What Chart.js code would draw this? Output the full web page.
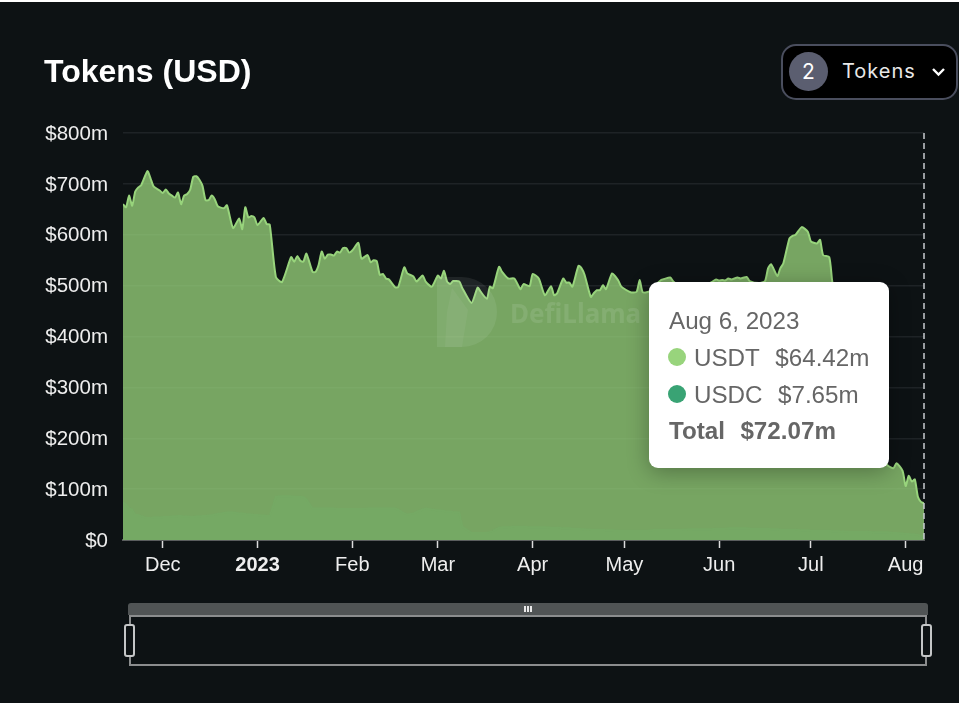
<!DOCTYPE html>
<html>
<head>
<meta charset="utf-8">
<title>Tokens (USD)</title>
<script src="https://cdn.jsdelivr.net/npm/chart.js@4"></script>
<style>
  html, body { margin: 0; padding: 0; background: #fff; }
  #page { position: absolute; left: 0; top: 2px; width: 959px; height: 701px; background: #0d1214; overflow: hidden; }
  #page div { position: absolute; box-sizing: border-box; }
  #tokensChart { position: absolute; left: 0; top: -2px; }
  #title { left: 44px; top: 51px; color: #fff; font: bold 32px "Liberation Sans", sans-serif; white-space: nowrap; }
  #picker { left: 781px; top: 42px; width: 177px; height: 56px; background: #000; border: 2px solid #4a4e5e; border-radius: 15px; }
  #pickerCount { left: 789px; top: 50px; width: 39px; height: 39px; border-radius: 50%; background: #5b5e70; color: #fff; font: 21px/39px Inter, sans-serif; text-align: center; }
  #pickerText { left: 842px; top: 57px; color: #e8e8e8; font: 20px Inter, sans-serif; letter-spacing: 1px; white-space: nowrap; }
  #watermark { left: 510px; top: 293px; color: rgba(255,255,255,0.1); font: bold 26px "Noto Sans", sans-serif; white-space: nowrap; }
  #tip { left: 649px; top: 280px; width: 240px; height: 186px; background: #fff; border-radius: 9px; box-shadow: 0 4px 22px rgba(0,0,0,0.3); color: #666; font: 24.2px "Liberation Sans", sans-serif; }
  #tip div { white-space: nowrap; }
  .dot { width: 18px; height: 18px; border-radius: 50%; left: 19px; }
  #sliderBar { left: 128px; top: 601px; width: 800px; height: 12px; background: #505455; border-radius: 3px 3px 0 0; }
  .grip { top: 604px; width: 2px; height: 6px; background: #e8e8e8; }
  #sliderFrame { left: 129px; top: 613px; width: 798px; height: 51px; border: 2px solid #8b8d8e; }
  .handle { top: 622px; width: 11px; height: 33px; background: #0d1214; border: 2px solid #c4c6c7; border-radius: 3px; }
</style>
</head>
<body>
<div id="page">
  <canvas id="tokensChart" width="959" height="703"></canvas>
  <div id="watermark">DefiLlama</div>
  <div id="title">Tokens (USD)</div>
  <div id="picker"></div>
  <div id="pickerCount">2</div>
  <div id="pickerText">Tokens</div>
  <svg style="position:absolute;left:931px;top:65px" width="16" height="10"><path d="M2 2 L7.5 7.5 L13 2" fill="none" stroke="#fff" stroke-width="2.4"/></svg>
  <div id="tip"></div>
  <div id="sliderBar"></div>
  <div class="grip" style="left:524px"></div>
  <div class="grip" style="left:527px"></div>
  <div class="grip" style="left:530px"></div>
  <div id="sliderFrame"></div>
  <div class="handle" style="left:124px"></div>
  <div class="handle" style="left:921px"></div>
</div>
<script>
// day number counted from Nov 18 2022, values in $m
const tokenDays = [0,1,2,3,4,5,6,8,9,10,12,13,14,15,16,17,18,19,20,21,22,23,24,25,26,27,28,29,30,31,33,34,36,38,39,40,41,42,43,44,46,47,48,50,52,55,56,57,58,59,60,62,63,64,65,66,67,68,69,70,71,72,73,74,75,77,78,80,81,82,83,84,85,86,87,89,90,92,93,95,96,98,99,101,103,104,105,106,107,108,110,111,114,116,117,119,120,121,123,124,126,128,130,131,133,134,136,138,140,141,142,144,145,146,147,149,150,151,153,154,155,156,157,158,160,162,163,166,168,169,170,172,174,176,177,179,180,183,186,189,192,194,195,196,197,198,199,201,202,204,205,208,210,211,212,214,215,216,218,219,220,222,224,225,227,228,229,231,232,234,237,240,243,246,249,250,252,253,255,256,257,258,259,260,261,262];
const usdcValues = [75,70,62,60,49,49,47,43,43,44,44,45,45,45,46,46,47,47,46,46,45,45,46,46,47,47,48,48,50,51,53,54,54,52,52,51,50,50,49,49,48,47,47,85,86,86,85,85,85,84,80,62,62,62,62,62,62,62,62,61,61,61,61,61,61,61,61,62,62,62,62,62,62,62,62,62,60,52,50,52,55,60,62,60,58,58,57,56,56,55,54,26,14,14,14,14,16,18,24,25,25,26,26,26,25,25,25,25,24,24,24,23,23,23,22,22,21,21,20,20,20,20,20,19,19,18,18,18,18,18,18,18,20,20,20,20,20,20,21,21,21,22,22,22,22,23,23,23,23,23,22,22,22,22,21,21,20,20,20,20,20,19,19,18,18,18,18,18,17,17,16,16,16,15,15,15,14,14,13,12,12,11,11,10,8,7.65];
const usdtValues = [585,584,615,597,636,644,651,682,668,651,643,637,644,636,631,627,636,613,631,634,644,669,669,662,649,621,620,629,620,605,599,604,559,580,559,603,584,587,585,570,585,574,573,432,421,470,462,473,464,463,483,465,465,479,505,491,499,499,497,506,504,513,513,504,508,523,492,498,484,488,486,459,461,452,450,435,437,484,474,466,453,460,446,438,462,456,472,452,447,454,454,469,452,482,474,460,482,477,513,502,489,488,467,477,474,498,489,456,475,457,461,491,483,483,476,517,513,500,458,465,471,471,481,474,505,492,480,469,470,493,469,470,480,491,493,496,488,475,481,476,484,490,488,489,488,491,489,493,491,494,487,483,487,512,521,498,514,524,573,578,580,596,587,569,565,572,542,538,491,433,374,304,244,190,150,132,127,137,123,94,114,104,108,75,67,64.42];
const monthDays = [13,44,75,103,134,164,195,225,256];
const monthLabels = ['Dec','2023','Feb','Mar','Apr','May','Jun','Jul','Aug'];
const yTicks = [0,100,200,300,400,500,600,700,800];

const tipDate = 'Aug 6, 2023';
const tipRows = [
    { name: 'USDT', value: '$64.42m', color: '#98d47c' },
    { name: 'USDC', value: '$7.65m', color: '#39a374' }
];
const tipTotal = '$72.07m';

const tickFont = '"Liberation Sans", sans-serif';

function renderTip() {
    const tip = document.getElementById('tip');
    let html = `<div style="left:20px;top:25px">${tipDate}</div>`;
    tipRows.forEach((r, i) => {
        const top = 62 + i * 36.5;
        html += `<div class="dot" style="top:${top + 4}px;background:${r.color}"></div>`;
        html += `<div style="left:45px;top:${top}px;word-spacing:1px">${r.name}&nbsp; ${r.value}</div>`;
    });
    html += `<div style="left:20px;top:135px;font-weight:bold;word-spacing:1px">Total&nbsp; ${tipTotal}</div>`;
    tip.innerHTML = html;
}

// dashed cursor on the last day, and the faint logo behind the tooltip
const overlayPlugin = {
    id: 'overlay',
    afterDatasetsDraw(chart) {
        const { ctx, chartArea, scales } = chart;
        const x = scales.x.getPixelForValue(tokenDays[tokenDays.length - 1]);
        ctx.save();
        ctx.strokeStyle = '#c8cbd0';
        ctx.lineWidth = 1.5;
        ctx.setLineDash([6, 4]);
        ctx.beginPath();
        ctx.moveTo(x, chartArea.top);
        ctx.lineTo(x, chartArea.bottom);
        ctx.stroke();
        ctx.setLineDash([]);

        ctx.fillStyle = 'rgba(255,255,255,0.08)';
        ctx.beginPath();
        ctx.moveTo(437, 277);
        ctx.lineTo(462, 277);
        ctx.arc(462, 312, 35, -Math.PI / 2, Math.PI / 2);
        ctx.lineTo(437, 347);
        ctx.closePath();
        ctx.fill();
        ctx.fillStyle = 'rgba(255,255,255,0.05)';
        ctx.beginPath();
        ctx.moveTo(452, 288);
        ctx.lineTo(468, 310);
        ctx.lineTo(462, 347);
        ctx.lineTo(445, 347);
        ctx.lineTo(447, 312);
        ctx.closePath();
        ctx.fill();
        ctx.restore();
    }
};

function renderChart() {
    const ctx = document.getElementById('tokensChart').getContext('2d');
    new Chart(ctx, {
        type: 'line',
        data: {
            datasets: [
                {
                    label: 'USDC',
                    data: tokenDays.map((d, i) => ({ x: d, y: usdcValues[i] })),
                    borderColor: '#75a964',
                    borderWidth: 2,
                    backgroundColor: '#75a964',
                    fill: 'origin',
                    pointRadius: 0,
                    tension: 0
                },
                {
                    label: 'USDT',
                    data: tokenDays.map((d, i) => ({ x: d, y: usdtValues[i] })),
                    borderColor: '#98d47c',
                    borderWidth: 2,
                    backgroundColor: 'rgba(152,212,124,0.76)',
                    fill: '-1',
                    pointRadius: 0,
                    tension: 0.2
                }
            ]
        },
        plugins: [overlayPlugin],
        options: {
            responsive: false,
            animation: false,
            events: [],
            layout: { padding: { top: 133, right: 35, left: 0, bottom: 0 } },
            plugins: { legend: { display: false }, tooltip: { enabled: false } },
            scales: {
                x: {
                    type: 'linear',
                    min: 0,
                    max: 262,
                    afterBuildTicks: scale => { scale.ticks = monthDays.map(v => ({ value: v })); },
                    afterFit: scale => { scale.height = 163; },
                    grid: { drawOnChartArea: false, tickLength: 8, tickColor: '#dcdcdc', tickWidth: 1.5 },
                    border: { color: '#5a5d5e', width: 2 },
                    ticks: {
                        autoSkip: false,
                        maxRotation: 0,
                        padding: 5,
                        color: '#eeeeee',
                        font: ctx => ({
                            family: tickFont,
                            size: 20,
                            weight: ctx.tick && monthLabels[monthDays.indexOf(ctx.tick.value)] === '2023' ? 'bold' : 'normal'
                        }),
                        callback: v => monthLabels[monthDays.indexOf(v)]
                    }
                },
                y: {
                    stacked: true,
                    min: 0,
                    max: 800,
                    afterBuildTicks: scale => { scale.ticks = yTicks.map(v => ({ value: v })); },
                    afterFit: scale => { scale.width = 123; },
                    grid: { color: '#1e2326', lineWidth: 1.5, drawTicks: false },
                    border: { display: false },
                    ticks: {
                        padding: 15,
                        labelOffset: 1,
                        color: '#eeeeee',
                        font: { family: tickFont, size: 20.5 },
                        callback: v => '$' + v + (v ? 'm' : '')
                    }
                }
            }
        }
    });
}

renderTip();
renderChart();
</script>
</body>
</html>
